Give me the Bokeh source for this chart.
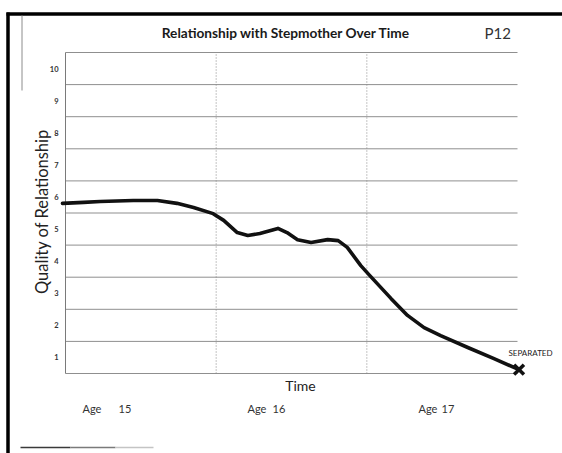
import math
from bokeh.plotting import figure
from bokeh.models import Range1d
from bokeh.core.properties import value
from bokeh.embed import file_html
from bokeh.resources import INLINE

# ---------------- data ----------------
title_text = "Relationship with Stepmother Over Time"
participant = "P12"
y_title = "Quality of Relationship"
x_title = "Time"
y_ticks = [1, 2, 3, 4, 5, 6, 7, 8, 9, 10]
y_tick_labels = [str(v) for v in y_ticks]
grid_levels = [0.5, 1.5, 2.5, 3.5, 4.5, 5.5, 6.5, 7.5, 8.5, 9.5, 10.5]
age_start, age_end = 15.0, 18.0
age_dividers = [16.0, 17.0]
age_word = "Age"
age_numbers = ["15", "16", "17"]
curve_age = [14.98, 15.12, 15.23, 15.45, 15.61, 15.74, 15.85, 15.98, 16.05,
             16.14, 16.21, 16.29, 16.41, 16.47, 16.54, 16.63, 16.74, 16.81,
             16.87, 16.96, 17.02, 17.16, 17.27, 17.38, 17.49, 17.67, 17.84,
             18.01]
curve_quality = [5.80, 5.83, 5.86, 5.89, 5.89, 5.80, 5.67, 5.48, 5.27,
                 4.89, 4.80, 4.86, 5.02, 4.89, 4.67, 4.58, 4.67, 4.64,
                 4.43, 3.86, 3.55, 2.84, 2.31, 1.93, 1.68, 1.31, 0.97,
                 0.62]
end_label = "SEPARATED"

# ---------------- layout ----------------
W, H = 562, 453
PAGE = 0                      # Bokeh's page template has no body margin
FX0, FY0 = 65, 373            # page px of (age 15, quality 0.5)
SX = 452 / 3.0                # px per year
SY = 32.1                     # px per quality unit


def X(px):
    return age_start + (px - FX0) / SX


def Y(py):
    return 0.5 + (FY0 - py) / SY


p = figure(width=W, height=H, output_backend="svg", toolbar_location=None,
           x_axis_type=None, y_axis_type=None,
           x_range=Range1d(X(PAGE), X(PAGE + W)),
           y_range=Range1d(Y(PAGE + H), Y(PAGE)),
           min_border=0)
p.outline_line_color = None
p.background_fill_color = "white"
p.border_fill_color = "white"
p.xgrid.visible = False
p.ygrid.visible = False

FONT = value("Lato")

# outer page border (scan frame)
p.segment(x0=[X(6)], y0=[Y(13.5)], x1=[X(570)], y1=[Y(13.5)],
          line_color="black", line_width=3.5)
p.segment(x0=[X(7.5)], y0=[Y(12)], x1=[X(7.5)], y1=[Y(470)],
          line_color="black", line_width=3.5)
p.segment(x0=[X(21.5)], y0=[Y(15)], x1=[X(21.5)], y1=[Y(90)],
          line_color="#8c8c8c", line_width=1)
p.segment(x0=[X(20), X(70), X(115)], y0=[Y(447)] * 3,
          x1=[X(70), X(115), X(153)], y1=[Y(447)] * 3,
          line_color=["#3a3a3a", "#7a7a7a", "#c4c4c4"], line_width=1.5)

# horizontal grid lines
p.segment(x0=[age_start] * len(grid_levels), y0=grid_levels,
          x1=[age_end] * len(grid_levels), y1=grid_levels,
          line_color="#8f8f8f", line_width=1)
# left frame line
p.segment(x0=[age_start], y0=[grid_levels[0]], x1=[age_start], y1=[grid_levels[-1]],
          line_color="#7a7a7a", line_width=1)
# dotted dividers
p.segment(x0=age_dividers, y0=[grid_levels[0]] * 2, x1=age_dividers,
          y1=[grid_levels[-1]] * 2, line_color="#8a8a8a", line_width=1,
          line_dash="1 2")

# curve
p.line(curve_age, curve_quality, line_color="#111111", line_width=3.6,
       line_join="round", line_cap="round")
p.scatter([curve_age[-1]], [curve_quality[-1]], marker="x", size=14,
          line_color="#111111", line_width=3.5)

# y tick labels
p.text(x=[X(58)] * len(y_ticks), y=y_ticks, text=y_tick_labels,
       text_font=FONT, text_font_size=value("7.5px"), text_font_style="bold",
       text_color="#333333", text_align="right", text_baseline="middle")

# titles
p.text(x=[X(285.5)], y=[Y(32)], text=[title_text], text_font=FONT,
       text_font_size=value("13.7px"), text_font_style="bold",
       text_color="#1a1a1a", text_align="center", text_baseline="middle")
p.text(x=[X(484)], y=[Y(32)], text=[participant], text_font=FONT,
       text_font_size=value("15px"), text_color="#333333",
       text_align="left", text_baseline="middle")
p.text(x=[X(41)], y=[Y(211)], text=[y_title], text_font=FONT,
       text_font_size=value("16.5px"), text_color="#222222",
       text_align="center", text_baseline="middle", angle=math.pi / 2)
p.text(x=[X(300)], y=[Y(385)], text=[x_title], text_font=FONT,
       text_font_size=value("14px"), text_color="#222222",
       text_align="center", text_baseline="middle")

# age labels under the axis
word_px = [82, 247, 418]
num_px = [118, 272, 441]
p.text(x=[X(v) for v in word_px], y=[Y(408)] * 3, text=[age_word] * 3,
       text_font=FONT, text_font_size=value("11px"), text_color="#333333",
       text_align="left", text_baseline="middle")
p.text(x=[X(v) for v in num_px], y=[Y(408)] * 3, text=age_numbers,
       text_font=FONT, text_font_size=value("11px"), text_color="#333333",
       text_align="left", text_baseline="middle")

# end annotation
p.text(x=[X(508)], y=[Y(352)], text=[end_label], text_font=FONT,
       text_font_size=value("8px"), text_color="#222222",
       text_align="left", text_baseline="middle")

open("out.html", "w").write(file_html(p, INLINE))
